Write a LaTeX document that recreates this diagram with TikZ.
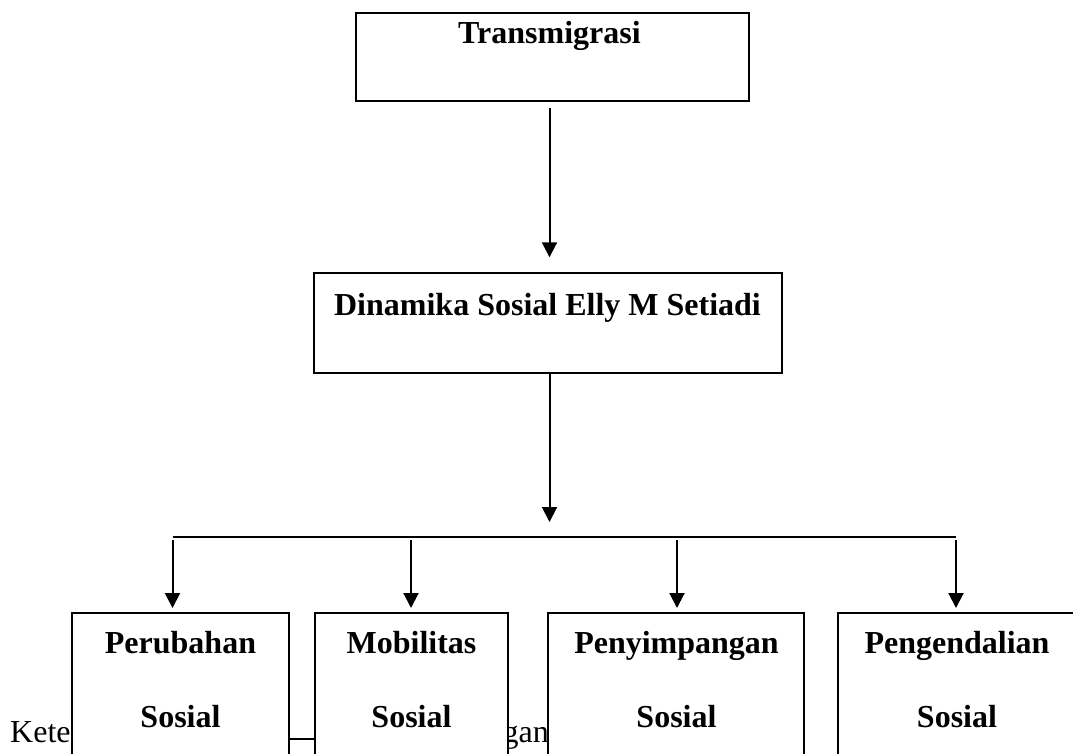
\documentclass[tikz,border=0pt]{standalone}
\usepackage{fontspec}
\setmainfont{Liberation Serif}
\usetikzlibrary{arrows.meta}

\begin{document}
\begin{tikzpicture}[x=1pt, y=-1pt,
    kotak/.style={draw, fill=white, line width=1.8pt, outer sep=0pt, anchor=north west},
    judul/.style={font=\fontsize{32}{38}\selectfont\bfseries, anchor=base, inner sep=0pt},
    ket/.style={font=\fontsize{32}{38}\selectfont, inner sep=0pt},
    panah/.style={line width=2pt, -{Triangle[width=15pt,length=15pt]}}]
    \useasboundingbox (0,0) rectangle (1073,753);

    % keterangan (tertutup kotak)
    \node[ket, anchor=base west] (ket1) at (10,742) {Keter};
    \node[ket, anchor=base east] (ket2) at (549,742) {gan};
    \coordinate (legA) at (280,739);
    \coordinate (legB) at (320,739);
    \draw[line width=1.8pt] (legA) -- (legB);

    % kotak atas
    \node[kotak, minimum width=393pt, minimum height=88pt] (trans) at (356,12.7) {};
    \node[judul] (ttrans) at (549.5,43) {Transmigrasi};

    \node[kotak, minimum width=467.7pt, minimum height=100pt] (dinamika) at (314,273.3) {};
    \node[judul] (tdinamika) at (547.5,315) {Dinamika Sosial Elly M Setiadi};

    % kotak bawah
    \node[kotak, minimum width=217pt, minimum height=200pt] (perubahan) at (72,612.7) {};
    \node[kotak, minimum width=193pt, minimum height=200pt] (mobilitas) at (315,612.7) {};
    \node[kotak, minimum width=256pt, minimum height=200pt] (penyimpangan) at (548,612.7) {};
    \node[kotak, minimum width=238pt, minimum height=200pt] (pengendalian) at (838,612.7) {};

    \node[judul] (tperubahan) at (180.5,653) {Perubahan};
    \node[judul] (tperubahan2) at (180.5,727) {Sosial};
    \node[judul] (tmobilitas) at (411.5,653) {Mobilitas};
    \node[judul] (tmobilitas2) at (411.5,727) {Sosial};
    \node[judul] (tpenyimpangan) at (676.5,653) {Penyimpangan};
    \node[judul] (tpenyimpangan2) at (676.5,727) {Sosial};
    \node[judul] (tpengendalian) at (957,653) {Pengendalian};
    \node[judul] (tpengendalian2) at (957,727) {Sosial};

    % panah
    \coordinate (tengah) at (549.5,0);
    \coordinate (cabang) at (549.5,537);
    \draw[panah, shorten <=7pt, shorten >=16pt] (trans.south -| tengah) -- (dinamika.north -| tengah);
    \draw[panah, shorten >=15pt] (dinamika.south -| cabang) -- (cabang);

    \coordinate (a1) at (172.5,537);
    \coordinate (a2) at (411,537);
    \coordinate (a3) at (677,537);
    \coordinate (a4) at (956,537);
    \draw[line width=2pt] (a1) -- (a4);

    \draw[panah, shorten <=3pt, shorten >=4.7pt] (a1) -- (a1 |- perubahan.north);
    \draw[panah, shorten <=3pt, shorten >=4.7pt] (a2) -- (a2 |- mobilitas.north);
    \draw[panah, shorten <=3pt, shorten >=4.7pt] (a3) -- (a3 |- penyimpangan.north);
    \draw[panah, shorten <=3pt, shorten >=4.7pt] (a4) -- (a4 |- pengendalian.north);
\end{tikzpicture}
\end{document}
